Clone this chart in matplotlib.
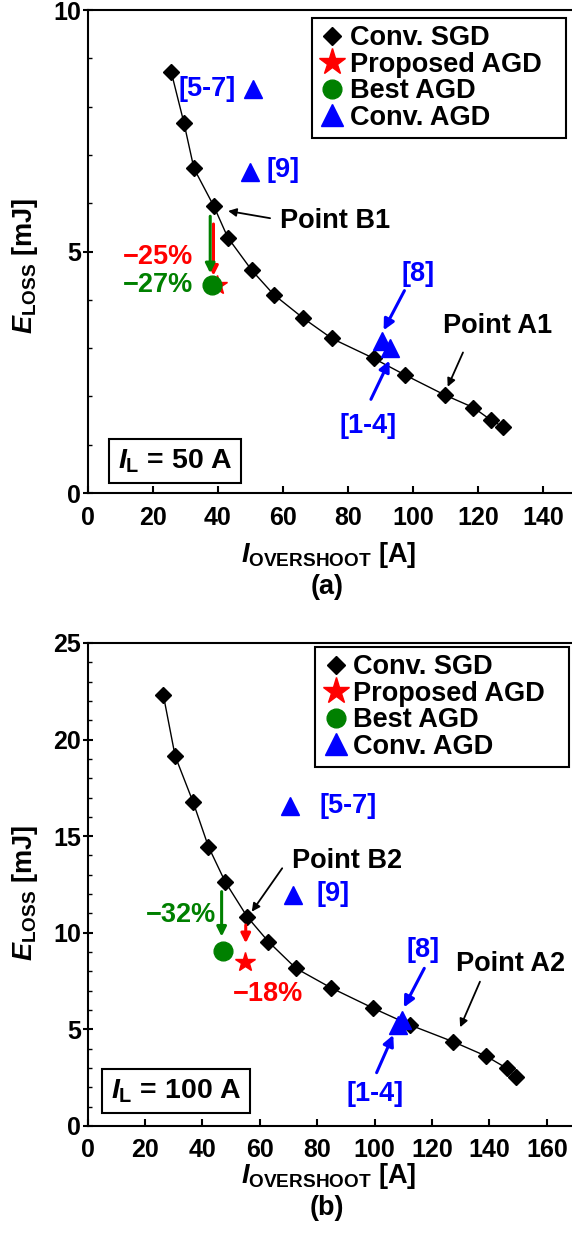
import matplotlib
matplotlib.use("Agg")
import matplotlib.pyplot as plt
from matplotlib.lines import Line2D
from matplotlib.patches import Rectangle
from matplotlib.ticker import MultipleLocator

plt.rcParams.update({
    "font.family": "Liberation Sans",
    "font.weight": "bold",
    "axes.labelweight": "bold",
    "mathtext.fontset": "custom",
    "mathtext.rm": "Liberation Sans:bold",
    "mathtext.it": "Liberation Sans:italic:bold",
    "mathtext.bf": "Liberation Sans:bold",
    "axes.linewidth": 1.5,
})

RED, GREEN, BLUE = "#FF0000", "#008000", "#0000FF"

# ── (a) I_L = 50 A ─────────────────────────────────────────────────────────────
sgd_a_x = [25.7, 29.6, 32.7, 38.8, 43.1, 50.5, 57.2, 66.3, 75.1, 87.9,
           97.7, 109.8, 118.6, 124.0, 127.7]
sgd_a_y = [8.72, 7.67, 6.72, 5.94, 5.29, 4.61, 4.11, 3.62, 3.20, 2.79,
           2.44, 2.03, 1.77, 1.51, 1.37]
prop_a_x, prop_a_y = [39.7], [4.31]
best_a_x, best_a_y = [38.4], [4.31]
conv_a_x = [50.8, 50.0, 90.5, 93.0]
conv_a_y = [8.36, 6.65, 3.15, 3.00]

# ── (b) I_L = 100 A ────────────────────────────────────────────────────────────
sgd_b_x = [26.4, 30.5, 36.8, 42.1, 47.9, 55.6, 63.0, 72.6, 84.7, 99.6,
           112.3, 127.4, 138.8, 146.0, 149.3]
sgd_b_y = [22.3, 19.15, 16.75, 14.46, 12.65, 10.83, 9.54, 8.16, 7.16, 6.09,
           5.23, 4.36, 3.62, 2.99, 2.55]
prop_b_x, prop_b_y = [54.8], [8.50]
best_b_x, best_b_y = [47.1], [9.07]
conv_b_x = [70.5, 71.7, 109.4, 108.3]
conv_b_y = [16.56, 11.96, 5.49, 5.23]

legend_labels = ["Conv. SGD", "Proposed AGD", "Best AGD", "Conv. AGD"]


def arrow(ax, tip, tail, color, lw, scale):
    ax.annotate("", xy=tip, xytext=tail,
                arrowprops=dict(arrowstyle="-|>", color=color, lw=lw,
                                mutation_scale=scale, shrinkA=0, shrinkB=0))


def style_axes(ax, xmax, ymax, ymajor):
    ax.set_xlim(0, xmax)
    ax.set_ylim(0, ymax)
    ax.xaxis.set_major_locator(MultipleLocator(20))
    ax.yaxis.set_major_locator(MultipleLocator(ymajor))
    ax.yaxis.set_minor_locator(MultipleLocator(1))
    ax.tick_params(axis="x", which="major", direction="in", length=5,
                   width=1.5, labelsize=18, pad=9)
    ax.tick_params(axis="y", which="major", direction="inout", length=7,
                   width=1.5, labelsize=18, pad=1)
    ax.tick_params(axis="y", which="minor", direction="in", length=3, width=1)
    ax.spines["right"].set_visible(False)
    ax.set_xlabel(r"$I_{\mathrm{OVERSHOOT}}$ [A]", fontsize=19.5)
    ax.set_ylabel(r"$E_{\mathrm{LOSS}}$ [mJ]", fontsize=19.5)
    ax.yaxis.set_label_coords(-0.097, 0.47)


def add_legend(ax, left, top, width, height):
    handles = [
        Line2D([], [], ls="none", marker="D", ms=9, color="black"),
        Line2D([], [], ls="none", marker="*", ms=20, color=RED),
        Line2D([], [], ls="none", marker="o", ms=13.5, color=GREEN),
        Line2D([], [], ls="none", marker="^", ms=16, color=BLUE),
    ]
    # wide frame drawn separately, legend entries sit inside it
    ax.add_patch(Rectangle((left, top - height), width, height,
                           transform=ax.transAxes, fc="white", ec="black",
                           lw=1.5, zorder=6))
    leg = ax.legend(handles, legend_labels, loc="upper left",
                    bbox_to_anchor=(left, top), borderaxespad=0,
                    fontsize=19.5, frameon=False,
                    handlelength=1.0, handletextpad=0.15, borderpad=0.25,
                    labelspacing=0.02)
    leg.set_zorder(7)


def draw_marks(ax, sx, sy, px, py, bx, by, cx, cy):
    ax.plot(sx, sy, color="black", lw=1.0, marker="D", ms=8.4, zorder=3)
    ax.plot(cx, cy, ls="none", marker="^", ms=13.5, color=BLUE, zorder=4)
    ax.plot(px, py, ls="none", marker="*", ms=15, color=RED, zorder=4)
    ax.plot(bx, by, ls="none", marker="o", ms=13.5, color=GREEN, zorder=5)


fig = plt.figure(figsize=(5.72, 12.36), dpi=100)
ax1 = fig.add_axes([0.1531, 0.6011, 0.8531, 0.3908])
ax2 = fig.add_axes([0.1531, 0.0890, 0.8531, 0.3908])

box_style = dict(boxstyle="square,pad=0.3", fc="white", ec="black", lw=1.5)

# ── panel (a) ──
draw_marks(ax1, sgd_a_x, sgd_a_y, prop_a_x, prop_a_y,
           best_a_x, best_a_y, conv_a_x, conv_a_y)
style_axes(ax1, 150, 10, 5)
add_legend(ax1, 0.460, 0.983, 0.520, 0.248)

arrow(ax1, (38.7, 4.50), (38.7, 5.57), RED, 2.2, 14)
arrow(ax1, (37.7, 4.55), (37.7, 5.73), GREEN, 2.2, 14)
ax1.text(21.7, 4.89, "\u221225%", color=RED, fontsize=19.5, ha="center", va="center")
ax1.text(21.7, 4.31, "\u221227%", color=GREEN, fontsize=19.5, ha="center", va="center")

ax1.text(36.9, 8.36, "[5-7]", color=BLUE, fontsize=19.5, ha="center", va="center")
ax1.text(60.1, 6.69, "[9]", color=BLUE, fontsize=19.5, ha="center", va="center")
ax1.text(101.7, 4.53, "[8]", color=BLUE, fontsize=19.5, ha="center", va="center")
ax1.text(86.3, 1.39, "[1-4]", color=BLUE, fontsize=19.5, ha="center", va="center")
arrow(ax1, (91.0, 3.37), (97.4, 4.19), BLUE, 2.2, 16)
arrow(ax1, (92.8, 2.74), (87.1, 1.94), BLUE, 2.2, 16)

ax1.text(76.1, 5.63, "Point B1", fontsize=19.5, ha="center", va="center")
arrow(ax1, (43.2, 5.84), (56.1, 5.69), "black", 1.3, 12)
ax1.text(126.0, 3.46, "Point A1", fontsize=19.5, ha="center", va="center")
arrow(ax1, (110.7, 2.20), (115.4, 2.91), "black", 1.3, 12)

ax1.text(26.9, 0.66, r"$I_{\mathrm{L}}$ = 50 A", fontsize=20.5, ha="center",
         va="center", bbox=box_style)
ax1.xaxis.set_label_coords(0.495, -0.097)
ax1.text(0.49, -0.195, "(a)", transform=ax1.transAxes, fontsize=19.5,
         ha="center", va="center")

# ── panel (b) ──
draw_marks(ax2, sgd_b_x, sgd_b_y, prop_b_x, prop_b_y,
           best_b_x, best_b_y, conv_b_x, conv_b_y)
style_axes(ax2, 170, 25, 5)
ax2.yaxis.set_label_coords(-0.097, 0.482)
add_legend(ax2, 0.467, 0.991, 0.520, 0.248)

arrow(ax2, (55.1, 9.46), (55.1, 10.40), RED, 2.2, 14)
arrow(ax2, (46.7, 9.80), (46.7, 12.13), GREEN, 2.2, 14)
ax2.text(32.5, 10.92, "\u221232%", color=GREEN, fontsize=19.5, ha="center", va="center")
ax2.text(62.7, 6.83, "\u221218%", color=RED, fontsize=19.5, ha="center", va="center")

ax2.text(90.6, 16.56, "[5-7]", color=BLUE, fontsize=19.5, ha="center", va="center")
ax2.text(85.5, 12.01, "[9]", color=BLUE, fontsize=19.5, ha="center", va="center")
ax2.text(116.9, 9.11, "[8]", color=BLUE, fontsize=19.5, ha="center", va="center")
ax2.text(100.3, 1.68, "[1-4]", color=BLUE, fontsize=19.5, ha="center", va="center")
arrow(ax2, (110.2, 6.14), (117.3, 8.16), BLUE, 2.2, 16)
arrow(ax2, (106.5, 4.71), (100.7, 2.76), BLUE, 2.2, 16)

ax2.text(90.4, 13.72, "Point B2", fontsize=19.5, ha="center", va="center")
arrow(ax2, (57.2, 11.09), (67.8, 13.34), "black", 1.3, 12)
ax2.text(147.5, 8.39, "Point A2", fontsize=19.5, ha="center", va="center")
arrow(ax2, (129.8, 5.11), (136.7, 7.47), "black", 1.3, 12)

ax2.text(30.8, 1.81, r"$I_{\mathrm{L}}$ = 100 A", fontsize=20.5, ha="center",
         va="center", bbox=box_style)
ax2.xaxis.set_label_coords(0.495, -0.073)
ax2.text(0.49, -0.17, "(b)", transform=ax2.transAxes, fontsize=19.5,
         ha="center", va="center")

fig.savefig("out.png", dpi=100)
